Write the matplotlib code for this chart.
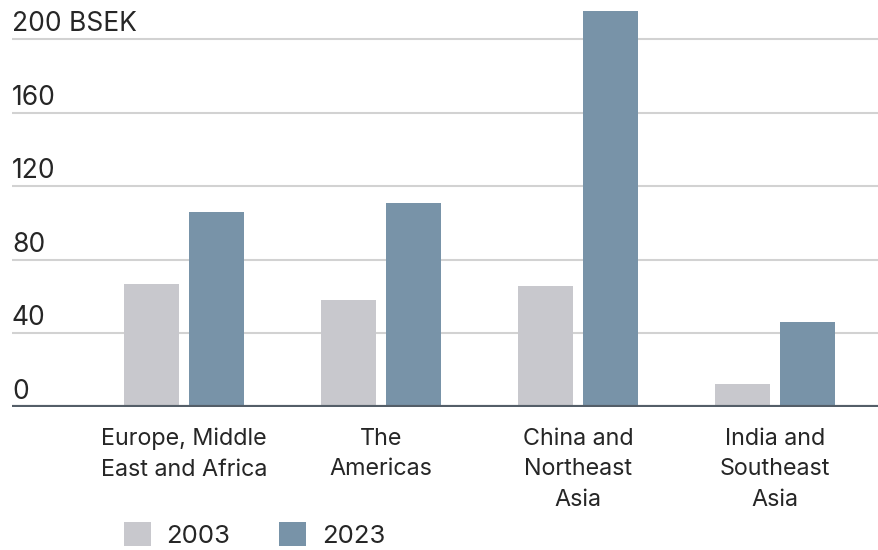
import numpy as np
import matplotlib.pyplot as plt
from matplotlib.transforms import blended_transform_factory

# Dados por região (BSEK)
regioes = ["Europe, Middle\nEast and Africa", "The\nAmericas",
           "China and\nNortheast\nAsia", "India and\nSoutheast\nAsia"]
valores_2003 = [66.5, 58, 65.7, 12.2]
valores_2023 = [106, 110.8, 215.3, 46.2]
anos = ["2003", "2023"]
ticks_y = [0, 40, 80, 120, 160, 200]

cor_2003 = "#c8c8cd"
cor_2023 = "#7893a8"
cor_texto = "#262626"

plt.rcParams['font.family'] = ['Inter', 'DejaVu Sans']

fig = plt.figure(figsize=(8.79, 5.5), dpi=100)
ax = fig.add_axes([12/879, 1 - 406.7/550, 1 - 12/879, 406.7/550])

x = np.arange(len(regioes))
largura = 0.284
desloc = 0.165
ax.bar(x - desloc, valores_2003, largura, color=cor_2003, label=anos[0], zorder=2)
ax.bar(x + desloc, valores_2023, largura, color=cor_2023, label=anos[1], zorder=2)

ax.set_xlim(-0.873, 3.528)
ax.set_ylim(0, 221.3)

# Grade horizontal e rótulos acima das linhas
for t in ticks_y[1:]:
    ax.axhline(t, color="#d2d2d2", lw=1.5, zorder=1)
trans = blended_transform_factory(ax.transAxes, ax.transData)
for t in ticks_y:
    rotulo = f"{t} BSEK" if t == 200 else str(t)
    ax.text(0, t + 1.0, rotulo, transform=trans, ha="left", va="bottom",
            fontsize=19, color=cor_texto)
ax.axhline(0, color="#545e68", lw=3, zorder=3)

for s in ax.spines.values():
    s.set_visible(False)
ax.set_yticks([])
ax.set_xticks(x)
ax.set_xticklabels(regioes, fontsize=16.8, color=cor_texto, linespacing=1.5)
ax.tick_params(axis="x", length=0, pad=15)

fig.legend(loc="center left", bbox_to_anchor=(101/879, 1 - 535/550), ncol=2, frameon=False,
           fontsize=18.5, handlelength=1.05, handleheight=1.05, handletextpad=0.6,
           columnspacing=1.9, labelcolor=cor_texto)

fig.savefig("out.png", dpi=100)
